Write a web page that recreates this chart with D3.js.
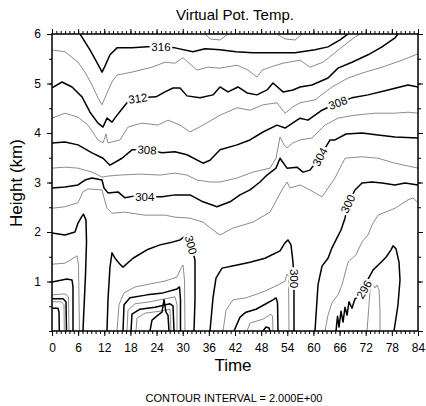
<!DOCTYPE html>
<html>
<head>
<meta charset="utf-8">
<script src="https://cdn.jsdelivr.net/npm/d3@7"></script>
<style>
  body { margin: 0; background: #fff; }
  svg { display: block; }
  text { font-family: "Liberation Sans", Arial, Helvetica, sans-serif; }
</style>
</head>
<body>
<div id="chart"></div>
<script>
// tick values
const xTicks = [0, 6, 12, 18, 24, 30, 36, 42, 48, 54, 60, 66, 72, 78, 84];
const yTicks = [1, 2, 3, 4, 5, 6];

// contour lines, [time (h), height (km)]
const c318a = [[35.1, 6.0], [36.3, 5.9], [38.6, 5.88], [40.4, 6.0]];
const c318b = [[51.6, 6.0], [53.5, 5.9], [55.8, 5.88], [57.4, 6.0]];
const c316 = [[6.43, 6.0], [8.72, 5.68], [11.02, 5.31], [11.48, 5.23], [12.16, 5.35], [13.31, 5.58], [14.92, 5.72], [18.36, 5.72], [21.8, 5.74], [24.79, 5.74], [28.23, 5.72], [32.36, 5.64], [35.12, 5.7], [38.56, 5.68], [42.23, 5.64], [46.13, 5.62], [50.03, 5.62], [55.77, 5.62], [60.36, 5.68], [63.35, 5.74], [66.1, 5.88], [67.94, 6.0]];
const c314 = [[0, 5.68], [2.98, 5.64], [5.97, 5.43], [7.57, 5.23], [9.18, 4.97], [10.56, 4.71], [11.48, 4.57], [12.62, 4.81], [13.77, 5.03], [14.92, 5.17], [18.36, 5.23], [22.95, 5.33], [25.94, 5.43], [28.23, 5.41], [30.07, 5.52], [33.28, 5.27], [35.8, 5.33], [38.56, 5.31], [42.46, 5.37], [44.98, 5.27], [47.05, 5.13], [48.2, 5.27], [50.03, 5.33], [53.02, 5.41], [56.92, 5.47], [59.21, 5.33], [62.2, 5.43], [66.33, 5.72], [69.54, 5.94], [70.69, 6.0]];
const c312 = [[0, 4.91], [2.3, 5.03], [4.59, 4.93], [6.89, 4.73], [8.72, 4.42], [10.56, 4.2], [11.71, 4.12], [12.62, 4.3], [13.77, 4.22], [14.92, 4.36], [17.21, 4.61], [19.74, 4.71], [23.87, 4.73], [25.94, 4.83], [27.77, 4.91], [29.38, 4.91], [30.98, 4.75], [33.97, 4.71], [36.95, 4.77], [38.56, 4.93], [40.39, 4.83], [42.69, 4.93], [44.76, 4.81], [47.05, 4.77], [49.35, 4.87], [50.72, 5.01], [53.02, 4.83], [55.31, 4.87], [56.92, 4.93], [59.67, 4.97], [63.35, 5.11], [65.64, 5.31], [68.85, 5.43], [72.53, 5.58], [75.74, 5.74], [78.72, 5.92], [79.41, 6.0]];
const c310 = [[0, 4.3], [2.98, 4.4], [5.97, 4.32], [8.26, 4.16], [10.56, 3.86], [11.71, 3.8], [12.39, 3.98], [12.85, 3.8], [15.61, 3.86], [17.44, 4.12], [20.66, 4.2], [24.33, 4.16], [26.62, 4.26], [29.38, 4.16], [31.67, 4.02], [34.66, 4.16], [38.56, 4.36], [42.46, 4.51], [45.44, 4.46], [48.43, 4.57], [51.64, 4.61], [53.48, 4.4], [55.31, 4.53], [56.92, 4.61], [60.36, 4.67], [64.26, 4.93], [67.94, 5.11], [71.15, 5.21], [75.74, 5.33], [80.33, 5.47], [84, 5.6]];
const c308 = [[0, 3.8], [2.98, 3.82], [5.97, 3.76], [9.18, 3.6], [11.71, 3.49], [13.31, 3.35], [16.07, 3.49], [18.36, 3.66], [22.03, 3.66], [25.25, 3.6], [28.23, 3.62], [30.98, 3.56], [34.66, 3.39], [36.26, 3.45], [38.56, 3.66], [42.46, 3.76], [45.44, 3.86], [48.43, 4.02], [51.64, 4.16], [53.48, 4.1], [56.92, 4.3], [58.76, 4.26], [61.97, 4.46], [65.64, 4.61], [68.85, 4.71], [72.53, 4.77], [77.12, 4.87], [81.71, 4.97], [84, 4.93]];
const c306 = [[0, 3.29], [2.98, 3.31], [5.97, 3.29], [9.18, 3.21], [11.48, 3.11], [12.85, 3.13], [15.61, 3.15], [20.2, 3.17], [24.79, 3.15], [28.23, 3.19], [30.98, 3.15], [33.28, 3.05], [36.26, 3.01], [38.56, 3.01], [42.46, 3.09], [46.13, 3.21], [50.03, 3.29], [51.41, 3.49], [52.33, 3.92], [53.25, 3.76], [53.94, 3.7], [55.31, 3.8], [56.92, 3.86], [59.67, 3.9], [62.66, 4.16], [65.64, 4.3], [69.54, 4.36], [74.13, 4.4], [78.72, 4.4], [81.71, 4.42], [84, 4.4]];
const c304 = [[0, 2.89], [2.98, 2.91], [5.97, 2.95], [7.57, 3.05], [9.18, 3.09], [11.48, 3.05], [11.94, 2.89], [12.85, 2.79], [15.15, 2.81], [16.75, 2.69], [19.05, 2.73], [21.34, 2.71], [25.25, 2.71], [28.23, 2.75], [31.67, 2.75], [34.66, 2.61], [37.87, 2.51], [40.85, 2.61], [43.15, 2.75], [45.44, 2.85], [47.74, 3.01], [49.35, 3.15], [51.41, 3.29], [52.33, 3.49], [53.94, 3.29], [56.23, 3.31], [57.61, 3.21], [59.21, 3.25], [61.51, 3.52], [63.81, 3.86], [64.95, 3.86], [67.48, 3.98], [71.15, 4.0], [74.82, 3.96], [78.72, 3.92], [84, 3.9]];
const c302 = [[0, 2.48], [2.98, 2.51], [5.97, 2.59], [7.11, 2.81], [8.26, 2.87], [11.48, 2.85], [11.94, 2.69], [12.62, 2.48], [13.77, 2.38], [16.75, 2.4], [21.34, 2.34], [25.94, 2.34], [28.23, 2.3], [31.67, 2.28], [34.66, 2.2], [37.87, 1.98], [38.56, 1.94], [41.54, 2.08], [46.13, 2.2], [50.03, 2.4], [53.02, 2.89], [53.94, 3.01], [54.62, 2.89], [56.92, 2.95], [59.21, 2.85], [61.97, 2.71], [64.95, 3.09], [67.25, 3.49], [71.15, 3.52], [74.82, 3.49], [78.72, 3.39], [84, 3.29]];
const c300a = [[0, 1.98], [2.98, 1.94], [5.28, 2.0], [5.97, 2.18], [6.89, 2.32], [7.23, 2.36], [7.8, 2.24], [7.92, 1.8], [7.69, 1.13], [7.34, 0.46], [7.11, 0]];
const c300b = [[12.62, 0], [12.85, 0.63], [13.31, 1.29], [13.77, 1.58], [14.46, 1.47], [15.61, 1.35], [16.3, 1.29], [18.59, 1.47], [21.8, 1.64], [24.79, 1.74], [27.77, 1.8], [29.38, 1.84], [30.98, 1.94], [31.9, 1.78], [32.82, 1.43], [32.82, 0.63], [32.59, 0]];
const c300c = [[36.26, 0], [36.95, 0.67], [37.64, 1.07], [39.02, 1.27], [42.23, 1.33], [45.44, 1.39], [48.89, 1.47], [52.33, 1.62], [53.48, 1.78], [54.16, 1.84], [54.85, 1.74], [55.31, 1.39], [55.54, 1.03], [55.54, 0.63], [55.54, 0]];
const c300d = [[60.36, 0], [61.05, 0.93], [61.97, 1.31], [63.35, 1.47], [64.26, 1.68], [65.41, 1.88], [66.33, 2.04], [67.25, 2.28], [67.94, 2.57], [69.54, 2.85], [71.15, 2.99], [73.44, 3.01], [75.74, 2.99], [78.72, 2.95], [81.02, 2.99], [84, 2.95]];
const c298a = [[0, 1.35], [2.98, 1.37], [4.13, 1.43], [5.28, 1.49], [5.74, 1.52], [6.08, 1.33], [6.2, 0.63], [6.31, 0]];
const c298b = [[14.92, 0], [15.38, 0.53], [16.53, 0.77], [19.05, 0.89], [22.49, 0.95], [25.94, 1.01], [28.69, 1.09], [29.61, 1.27], [30.07, 1.33], [30.41, 1.03], [30.53, 0]];
const c298c = [[39.25, 0], [39.94, 0.42], [41.54, 0.63], [44.52, 0.67], [48.43, 0.79], [51.87, 0.93], [53.48, 1.01], [53.94, 1.15], [54.28, 1.11], [54.39, 0]];
const c298d = [[62.66, 0], [63.35, 0.32], [64.26, 0.57], [65.64, 0.73], [66.56, 0.93], [67.94, 1.39], [69.77, 1.54], [71.15, 1.8], [72.53, 1.94], [73.44, 2.14], [74.82, 2.34], [78.72, 2.48], [81.71, 2.65], [82.86, 2.69], [84, 2.59]];
const c296a = [[0, 0.99], [3.44, 1.05], [4.59, 1.03], [4.82, 0.89], [4.82, 0]];
const c296b = [[16.3, 0], [16.53, 0.53], [17.9, 0.67], [21.8, 0.73], [25.48, 0.77], [28.69, 0.85], [29.26, 0.89], [29.49, 0.63], [29.49, 0]];
const c296c = [[41.77, 0], [43.15, 0.28], [44.52, 0.38], [46.82, 0.44], [49.12, 0.55], [50.72, 0.63], [51.41, 0.67], [51.76, 0.57], [51.87, 0]];
const c296d = [[65.18, 0], [65.53, 0.3], [65.87, 0.08], [66.33, 0.4], [66.79, 0.18], [67.25, 0.48], [67.71, 0.32], [68.16, 0.59], [68.85, 0.46], [69.54, 0.65], [70.23, 0.69], [71.15, 0.79], [71.84, 0.89], [72.53, 1.05], [73.67, 1.23], [75.05, 1.35], [76.66, 1.49], [77.81, 1.64], [78.26, 1.72], [78.95, 1.66], [79.64, 1.39], [79.87, 1.03], [79.41, 0.53], [78.49, 0]];
const c294a = [[0, 0.73], [2.98, 0.75], [3.79, 0.69], [3.9, 0]];
const c294b = [[17.21, 0], [17.44, 0.42], [19.05, 0.55], [22.49, 0.59], [25.94, 0.65], [28.23, 0.69], [28.69, 0.53], [28.69, 0]];
const c294c = [[44.76, 0], [45.44, 0.16], [48.43, 0.24], [50.26, 0.34], [50.61, 0.3], [50.72, 0]];
const c294d = [[72.3, 0], [72.76, 0.53], [72.99, 0.83], [73.67, 0.93], [74.13, 0.87], [74.59, 0.93], [75.05, 0.83], [75.28, 0.42], [75.28, 0]];
const c292a = [[0, 0.65], [2.52, 0.65], [3.21, 0.59], [3.33, 0]];
const c292b = [[18.13, 0], [18.36, 0.34], [20.2, 0.44], [23.64, 0.48], [27.08, 0.55], [27.77, 0.51], [28.0, 0]];
const c292c = [[48.43, 0], [49.12, 0.08], [49.81, 0.06], [50.03, 0]];
const c290a = [[0, 0.59], [2.07, 0.59], [2.75, 0.53], [2.82, 0]];
const c290b = [[19.28, 0], [19.51, 0.26], [21.34, 0.36], [24.79, 0.4], [27.08, 0.44], [27.31, 0]];
const c288a = [[0, 0.46], [1.38, 0.46], [1.61, 0.38], [1.68, 0]];
const c288b = [[22.49, 0], [22.95, 0.22], [24.33, 0.32], [25.25, 0.38], [25.71, 0.63], [26.16, 0.38], [26.62, 0.32], [26.85, 0]];

// line labels: text, time, height, rotation
const lineLabels = [
  ["316", 25.0, 5.74, 0], ["312", 19.7, 4.70, -8], ["308", 21.8, 3.66, 4],
  ["308", 65.6, 4.61, -20], ["304", 21.3, 2.72, 0], ["304", 61.5, 3.52, -62],
  ["300", 31.9, 1.74, 75], ["300", 55.5, 1.06, 90], ["300", 67.9, 2.57, -65],
  ["296", 71.6, 0.84, -60]
];

const contours = [
  [318, c318a], [318, c318b], [316, c316], [314, c314], [312, c312], [310, c310],
  [308, c308], [306, c306], [304, c304], [302, c302],
  [300, c300a], [300, c300b], [300, c300c], [300, c300d],
  [298, c298a], [298, c298b], [298, c298c], [298, c298d],
  [296, c296a], [296, c296b], [296, c296c], [296, c296d],
  [294, c294a], [294, c294b], [294, c294c], [294, c294d],
  [292, c292a], [292, c292b], [292, c292c],
  [290, c290a], [290, c290b], [288, c288a], [288, c288b]
];

const W = 426, H = 406;
const svg = d3.select("#chart").append("svg").attr("width", W).attr("height", H);

const x = d3.scaleLinear().domain([0, 84]).range([52, 418]);
const y = d3.scaleLinear().domain([0, 6]).range([331, 34]);

svg.append("defs").append("clipPath").attr("id", "plot")
  .append("rect").attr("x", 52).attr("y", 34).attr("width", 366).attr("height", 297);

const line = d3.line().x(d => x(d[0])).y(d => y(d[1]));

const g = svg.append("g").attr("clip-path", "url(#plot)");
g.selectAll("path")
  .data(contours)
  .enter().append("path")
  .attr("d", d => line(d[1]))
  .attr("fill", "none")
  .attr("stroke", d => d[0] % 4 === 0 ? "#000" : "#8c8c8c")
  .attr("stroke-width", d => d[0] % 4 === 0 ? 1.5 : 1.0)
  .attr("stroke-linejoin", "round");

// labels sit on the lines with a white halo that cuts the line
g.selectAll("text")
  .data(lineLabels)
  .enter().append("text")
  .attr("transform", d => `translate(${x(d[1])},${y(d[2])}) rotate(${d[3]})`)
  .attr("text-anchor", "middle")
  .attr("dy", "0.36em")
  .attr("font-size", 11.5)
  .attr("fill", "#000")
  .attr("stroke", "#fff")
  .attr("stroke-width", 4)
  .attr("paint-order", "stroke")
  .text(d => d[0]);

// axes, ticks outward
const minorX = d3.range(0, 85, 1);
const minorY = d3.range(0, 6.01, 0.5);

function styleAxis(sel) {
  sel.select(".domain").remove();
  sel.selectAll("line").attr("stroke", "#000").attr("stroke-width", 1);
  sel.selectAll("text").attr("font-size", 12).attr("fill", "#000")
    .style("font-family", '"Liberation Sans", Arial, sans-serif');
}

svg.append("g").attr("transform", "translate(0,331)")
  .call(d3.axisBottom(x).tickValues(minorX).tickSize(3).tickFormat("")).call(styleAxis);
svg.append("g").attr("transform", "translate(0,331)")
  .call(d3.axisBottom(x).tickValues(xTicks).tickSize(5).tickPadding(7).tickFormat(d3.format("d"))).call(styleAxis);
svg.append("g").attr("transform", "translate(0,34)")
  .call(d3.axisTop(x).tickValues(minorX).tickSize(3).tickFormat("")).call(styleAxis);
svg.append("g").attr("transform", "translate(0,34)")
  .call(d3.axisTop(x).tickValues(xTicks).tickSize(5).tickFormat("")).call(styleAxis);
svg.append("g").attr("transform", "translate(52,0)")
  .call(d3.axisLeft(y).tickValues(minorY).tickSize(3).tickFormat("")).call(styleAxis);
svg.append("g").attr("transform", "translate(52,0)")
  .call(d3.axisLeft(y).tickValues(yTicks).tickSize(5).tickPadding(6).tickFormat(d3.format("d"))).call(styleAxis);
svg.append("g").attr("transform", "translate(418,0)")
  .call(d3.axisRight(y).tickValues(minorY).tickSize(3).tickFormat("")).call(styleAxis);
svg.append("g").attr("transform", "translate(418,0)")
  .call(d3.axisRight(y).tickValues(d3.range(0, 7)).tickSize(5).tickFormat("")).call(styleAxis);

// frame
svg.append("rect").attr("x", 52).attr("y", 34).attr("width", 366).attr("height", 297)
  .attr("fill", "none").attr("stroke", "#000").attr("stroke-width", 1.5);

svg.append("text").attr("x", 235).attr("y", 20).attr("text-anchor", "middle")
  .attr("font-size", 15).text("Virtual Pot. Temp.");
svg.append("text").attr("x", 233).attr("y", 371).attr("text-anchor", "middle")
  .attr("font-size", 17).text("Time");
svg.append("text").attr("transform", "translate(22,183) rotate(-90)").attr("text-anchor", "middle")
  .attr("font-size", 17).text("Height (km)");
svg.append("text").attr("x", 234).attr("y", 402).attr("text-anchor", "middle")
  .attr("font-size", 11).text("CONTOUR INTERVAL = 2.000E+00");
</script>
</body>
</html>
